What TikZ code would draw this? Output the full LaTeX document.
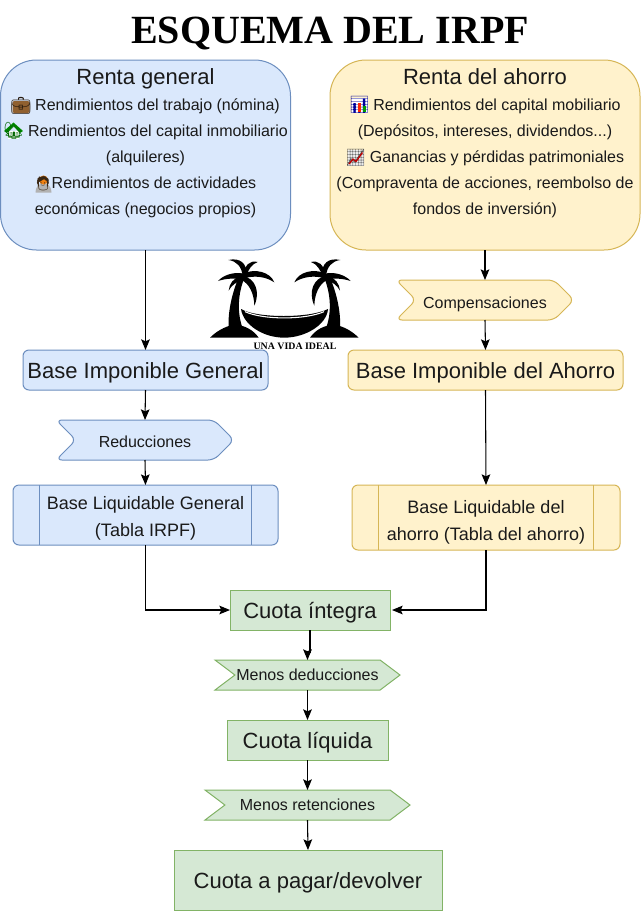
\documentclass[tikz,border=0pt]{standalone}
\usepackage{fontspec}
\setmainfont{Liberation Sans}
\newfontfamily\titlefont{Liberation Serif}
\newfontfamily\emojifont{Noto Emoji}
\usetikzlibrary{shapes.symbols,arrows.meta,calc}
\definecolor{bluefill}{HTML}{DAE8FC}\definecolor{blueline}{HTML}{6C8EBF}
\definecolor{yellowfill}{HTML}{FFF2CC}\definecolor{yellowline}{HTML}{D6B656}
\definecolor{greenfill}{HTML}{D5E8D4}\definecolor{greenline}{HTML}{82B366}
\definecolor{ink}{HTML}{1A1A1A}
\newcommand{\nudge}[2]{\raisebox{-#1}[\height][\depth]{#2}}
\tikzset{
  x=0.75pt,y=-0.75pt,
  wh/.style 2 args={minimum width=#1*0.75pt,minimum height=#2*0.75pt,inner sep=0pt,outer sep=0pt},
  bluebox/.style={draw=blueline,fill=bluefill,line width=0.75pt,text=ink},
  yellowbox/.style={draw=yellowline,fill=yellowfill,line width=0.75pt,text=ink},
  greenbox/.style={draw=greenline,fill=greenfill,line width=0.75pt,text=ink},
  bigcard/.style={rounded corners=27pt,align=center,font=\fontsize{12}{19.5}\selectfont},
  soft/.style={rounded corners=4.5pt},
  large/.style={font=\fontsize{16.5}{20}\selectfont},
  mid/.style={align=center,font=\fontsize{13.5}{20.25}\selectfont},
  tag/.style={shape=signal,signal from=west,signal to=east,signal pointer angle=#1,font=\fontsize{12}{14}\selectfont},
  link/.style={draw=black,line width=0.8pt,-{Stealth[length=8pt,width=6.5pt,inset=1.5pt]}},
  palmink/.style={fill=black,draw=none},
  icon/.style={font=\emojifont\fontsize{12.5}{12.5}\selectfont,inner sep=0pt,outer sep=0pt}
}
\begin{document}
\begin{tikzpicture}
\useasboundingbox (0,0) rectangle (641,911);
\fill[white] (0,0) rectangle (641,911);
\node[font=\titlefont\bfseries\fontsize{30}{32}\selectfont,text=black] (title) at (330,33) {ESQUEMA DEL IRPF};

\node[bluebox,bigcard,wh={290}{190}] (general) at (145.5,155) {{\fontsize{16.5}{19.5}\selectfont Renta general}\\
\hspace*{18pt}Rendimientos del trabajo (nómina)\\
\hspace*{18.75pt}Rendimientos del capital inmobiliario\\
(alquileres)\\
\hspace*{12.75pt}Rendimientos de actividades\\
económicas (negocios propios)\\ \mbox{}};
\node[yellowbox,bigcard,wh={310}{190}] (ahorro) at (485,155) {{\fontsize{16.5}{19.5}\selectfont Renta del ahorro}\\
\hspace*{18pt}Rendimientos del capital mobiliario\\
(Depósitos, intereses, dividendos...)\\
\hspace*{18pt}Ganancias y pérdidas patrimoniales\\
(Compraventa de acciones, reembolso de\\
fondos de inversión)\\ \mbox{}};

% emoji: colour underlay, glyph, colour overlay
\fill[brown!75!black,rounded corners=1pt] (12.5,101) rectangle (29.5,113);
\node[icon,text=black!80!brown] (case) at (21,105.5) {💼};
\fill[white] (8,131) rectangle (19,139);
\fill[green!55!black] (4,131) -- (13.5,122.5) -- (23,131) -- (20,133) -- (13.5,126) -- (7,133) -- cycle;
\node[icon,text=green!40!black] (house) at (13.5,131) {🏡};
\fill[gray!60] (35.5,192.5) .. controls (36,185) and (40,183.5) .. (43.5,183.5) .. controls (47,183.5) and (51,185) .. (51.5,192.5) -- cycle;
\fill[orange!75!brown] (43.5,180) circle (3.4pt);
\node[icon,font=\emojifont\fontsize{10.5}{10.5}\selectfont,text=black!70!brown] (person) at (43,184) {🧑};
\fill[white] (351.5,97.5) rectangle (367.5,113);
\node[icon,text=blue!60!black] (bars) at (359.5,105) {📊};
\fill[red!70!orange] (358,103) rectangle (361,112);
\fill[green!60!black] (362.5,106) rectangle (365.5,112);
\fill[gray!15] (347.5,150) rectangle (364,166);
\node[icon,text=gray!70!black] (trend) at (355.7,158) {📈};
\draw[red!75!black,line width=1pt,line join=round] (349,164) -- (353,159) -- (356,161.5) -- (362.5,152.5);

% logo
\begin{scope}[shift={(190,250)},x=0.25pt,y=-0.25pt]
 \foreach \flip/\off in {1/0,-1/566}{
 \begin{scope}[shift={(\off,0)},xscale=\flip]
  \path[palmink] (60,263) .. controls (85,238) and (115,226) .. (135,224) .. controls (165,226) and (190,240) .. (206,263) -- cycle;
  \path[palmink] (116,240) .. controls (112,180) and (130,115) .. (152,70) -- (168,72) .. controls (146,120) and (138,180) .. (158,235) -- cycle;
  \path[palmink] (158,78) .. controls (155,50) and (140,33) .. (115,30) .. controls (150,22) and (172,40) .. (170,76) -- cycle;
  \path[palmink] (160,72) .. controls (165,45) and (180,30) .. (203,36) .. controls (185,42) and (175,60) .. (168,78) -- cycle;
  \path[palmink] (155,70) .. controls (130,66) and (100,75) .. (84,93) .. controls (108,85) and (135,84) .. (158,88) -- cycle;
  \path[palmink] (160,70) .. controls (195,55) and (240,65) .. (253,97) .. controls (228,80) and (195,76) .. (165,84) -- cycle;
  \path[palmink] (160,78) .. controls (195,85) and (212,125) .. (193,167) .. controls (192,130) and (178,102) .. (155,90) -- cycle;
  \path[palmink] (152,78) .. controls (130,85) and (118,100) .. (116,122) .. controls (125,105) and (140,95) .. (158,90) -- cycle;
 \end{scope}}
 \path[palmink] (153,177) .. controls (200,205) and (360,205) .. (414,177) .. controls (410,225) and (345,263) .. (283,263) .. controls (220,263) and (160,225) .. (153,177) -- cycle;
 \draw[white,line width=0.8pt] (165,185) .. controls (220,210) and (345,210) .. (402,185);
\end{scope}
\node[font=\titlefont\bfseries\fontsize{7.4}{8}\selectfont,text=black] (logotext) at (295,346.5) {UNA VIDA IDEAL};

\node[bluebox,soft,large,wh={245}{40}] (big) at (145.5,370) {\nudge{2.25pt}{Base Imponible General}};
\node[bluebox,tag=90,rounded corners=4.5pt,wh={178}{40}] (red) at (145,440) {\nudge{1.5pt}{Reducciones}};
\node[bluebox,soft,mid,wh={265}{60}] (blg) at (145.5,515) {\nudge{2.25pt}{Base Liquidable General}\\\nudge{2.25pt}{(Tabla IRPF)}};
\draw[blueline,line width=0.75pt] ([xshift=20pt]blg.north west) -- ([xshift=20pt]blg.south west)
  ([xshift=-20pt]blg.north east) -- ([xshift=-20pt]blg.south east);

\node[yellowbox,tag=90,rounded corners=4.5pt,wh={178}{40}] (comp) at (485,300) {\nudge{3pt}{Compensaciones}};
\node[yellowbox,soft,large,wh={275}{40}] (bia) at (485.5,370) {\nudge{2.25pt}{Base Imponible del Ahorro}};
\node[yellowbox,soft,mid,wh={268}{65}] (bla) at (486,517.5) {\nudge{3.75pt}{Base Liquidable del}\\\nudge{3.75pt}{ahorro (Tabla del ahorro)}};
\draw[yellowline,line width=0.75pt] ([xshift=20pt]bla.north west) -- ([xshift=20pt]bla.south west)
  ([xshift=-20pt]bla.north east) -- ([xshift=-20pt]bla.south east);

\node[greenbox,large,wh={160}{40}] (integra) at (310,610) {\nudge{2.25pt}{Cuota íntegra}};
\node[greenbox,tag=74,wh={185}{30}] (ded) at (307.5,675) {Menos deducciones};
\node[greenbox,large,wh={161}{40}] (liq) at (307.5,740) {\nudge{2.25pt}{Cuota líquida}};
\node[greenbox,tag=74,wh={205}{30}] (ret) at (307.5,805) {Menos retenciones};
\node[greenbox,large,wh={268}{60}] (pagar) at (308,880) {\nudge{2.25pt}{Cuota a pagar/devolver}};

\draw[link] (general.south) -- (big.north);
\draw[link] (big.south) -- (red.north);
\draw[link] (red.south) -- (blg.north);
\draw[link] (blg.south) |- (integra.west);
\draw[link] (ahorro.south) -- (comp.north);
\draw[link] (comp.south) -- (bia.north);
\draw[link] (bia.south) -- (bla.north);
\draw[link,shorten >=1.5pt] (bla.south) |- (integra.east);
\draw[link] (integra.south) -- ++(0,22) -| (ded.north);
\draw[link] (ded.south) -- (liq.north);
\draw[link] (liq.south) -- (ret.north);
\draw[link] (ret.south) -- (pagar.north);
\end{tikzpicture}
\end{document}
